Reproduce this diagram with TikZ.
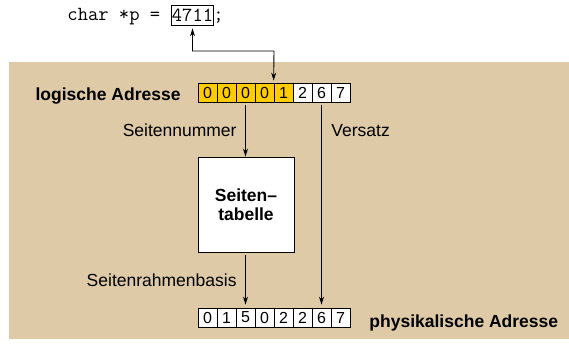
\documentclass[tikz,border=0pt]{standalone}
\usepackage{fontspec}
\setmainfont{Liberation Sans}
\usetikzlibrary{arrows.meta}
\definecolor{bgtan}{RGB}{222,202,166}
\definecolor{gold}{RGB}{255,204,0}
\begin{document}
\begin{tikzpicture}[x=1pt,y=-1pt, line width=0.9pt,
  >={Stealth[length=8pt,width=5pt]},
  lbl/.style={font=\fontsize{17.5}{20}\selectfont, inner sep=0},
  blbl/.style={font=\bfseries\fontsize{17.5}{20}\selectfont, inner sep=0},
  codetxt/.style={font=\ttfamily\fontsize{20}{22}\selectfont, inner sep=0},
  adrcell/.style={draw, minimum width=19pt, minimum height=19pt, inner sep=0,
    font=\fontsize{16}{18}\selectfont, line width=0.8pt, fill=white},
  hicell/.style={adrcell, fill=gold}]
\useasboundingbox (0,0) rectangle (569,345);
\fill[bgtan] (9,62) rectangle (569,339);

% code line
\node[codetxt, anchor=base west] (code) at (67,21) {char *p =};
\node[codetxt, draw, line width=0.8pt, minimum width=42pt, minimum height=20pt] (val) at (192.5,15) {4711};
\node[codetxt, anchor=base west] (semi) at (213,21) {;};

% logical address
\node[hicell] (l0) at (207.5,92.5) {0};
\node[hicell] (l1) at (226.5,92.5) {0};
\node[hicell] (l2) at (245.5,92.5) {0};
\node[hicell] (l3) at (264.5,92.5) {0};
\node[hicell] (l4) at (283.5,92.5) {1};
\node[adrcell] (l5) at (302.5,92.5) {2};
\node[adrcell] (l6) at (321.5,92.5) {6};
\node[adrcell] (l7) at (340.5,92.5) {7};

% physical address
\node[adrcell] (p0) at (207.5,317.5) {0};
\node[adrcell] (p1) at (226.5,317.5) {1};
\node[adrcell] (p2) at (245.5,317.5) {5};
\node[adrcell] (p3) at (264.5,317.5) {0};
\node[adrcell] (p4) at (283.5,317.5) {2};
\node[adrcell] (p5) at (302.5,317.5) {2};
\node[adrcell] (p6) at (321.5,317.5) {6};
\node[adrcell] (p7) at (340.5,317.5) {7};

% page table
\node[draw, fill=white, minimum width=96pt, minimum height=95pt, align=center,
  font=\bfseries\fontsize{17.5}{19.5}\selectfont] (tab) at (246,204.5) {Seiten–\\tabelle};

% labels
\node[blbl, anchor=base east] (la) at (181,100) {logische Adresse};
\node[lbl, anchor=base east] (sn) at (237,136) {Seitennummer};
\node[lbl, anchor=base west] (vs) at (331,136) {Versatz};
\node[lbl, anchor=base east] (srb) at (237,286) {Seitenrahmenbasis};
\node[blbl, anchor=base west] (pa) at (369,327) {physikalische Adresse};

% connectors
\coordinate (bend) at (274,51);
\draw[<->, shorten <=3pt, shorten >=2pt] (val.south) |- (bend) -- (l4.north west);
\draw[->, shorten <=3pt] (l2.south) -- (l2.south |- tab.north);
\draw[->, shorten <=3pt, shorten >=3pt] (l6.south) -- (p6.north);
\draw[->, shorten <=3pt, shorten >=3pt] (p2.north |- tab.south) -- (p2.north);
\end{tikzpicture}
\end{document}
